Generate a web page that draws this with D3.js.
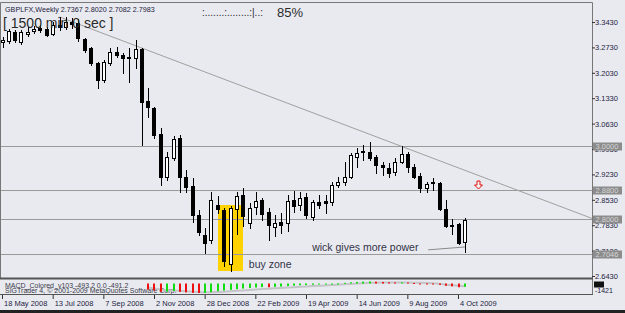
<!DOCTYPE html>
<html>
<head>
<meta charset="utf-8">
<script src="https://cdn.jsdelivr.net/npm/d3@7/dist/d3.min.js"></script>
<style>
  body { margin: 0; background: #e9eaf0; }
  svg { display: block; font-family: "Liberation Sans", Arial, sans-serif; }
</style>
</head>
<body>
<div id="chart"></div>
<script>
// weekly GBPLFX candles, one per week starting 18 May 2008
var opens  = [3.288,3.290,3.315,3.288,3.310,3.318,3.326,3.324,3.310,3.335,3.329,3.343,3.340,3.296,3.271,3.230,3.183,3.230,3.260,3.252,
              3.246,3.244,3.268,3.125,3.106,3.034,2.916,2.968,3.023,2.916,2.891,2.811,2.756,2.742,2.839,2.825,2.676,2.828,2.866,2.789,
              2.833,2.852,2.819,2.778,2.792,2.789,2.852,2.839,2.861,2.806,2.847,2.850,2.847,2.894,2.902,2.916,2.971,2.987,2.985,2.971,
              2.949,2.941,2.930,2.957,2.979,2.943,2.918,2.885,2.899,2.899,2.828,2.784,2.786,2.7367];
var highs  = [3.301,3.324,3.321,3.321,3.329,3.332,3.335,3.329,3.343,3.357,3.357,3.354,3.351,3.299,3.274,3.232,3.238,3.271,3.274,3.257,
              3.271,3.293,3.271,3.161,3.109,3.051,2.985,3.029,3.032,2.935,2.913,2.825,2.775,2.874,2.863,2.830,2.836,2.874,2.885,2.844,
              2.874,2.858,2.830,2.811,2.816,2.866,2.877,2.874,2.872,2.852,2.866,2.866,2.902,2.916,2.957,2.982,2.996,3.004,3.012,2.976,
              2.957,2.954,2.968,3.001,2.985,2.952,2.927,2.902,2.913,2.902,2.852,2.800,2.789,2.8020];
var lows   = [3.274,3.285,3.288,3.282,3.304,3.313,3.315,3.304,3.307,3.321,3.324,3.326,3.290,3.260,3.224,3.161,3.177,3.224,3.246,3.202,
              3.177,3.216,3.004,3.081,3.023,2.894,2.908,2.963,2.874,2.874,2.792,2.756,2.706,2.734,2.817,2.671,2.657,2.759,2.781,2.775,
              2.814,2.797,2.742,2.753,2.761,2.767,2.819,2.825,2.803,2.797,2.830,2.817,2.839,2.888,2.894,2.913,2.943,2.963,2.963,2.927,
              2.921,2.916,2.921,2.954,2.930,2.913,2.874,2.874,2.880,2.825,2.778,2.759,2.731,2.7082];
var closes = [3.293,3.318,3.293,3.315,3.315,3.324,3.321,3.307,3.335,3.329,3.343,3.337,3.299,3.266,3.230,3.183,3.232,3.260,3.252,3.244,
              3.244,3.268,3.122,3.109,3.032,2.916,2.971,3.021,2.916,2.888,2.811,2.764,2.734,2.852,2.828,2.684,2.830,2.863,2.808,2.830,
              2.850,2.814,2.784,2.789,2.784,2.850,2.836,2.858,2.811,2.847,2.839,2.844,2.894,2.902,2.916,2.976,2.982,2.985,2.968,2.949,
              2.943,2.927,2.957,2.979,2.943,2.916,2.885,2.896,2.902,2.828,2.781,2.781,2.734,2.7983];

// MACD_Colored histogram and signal (null = not drawn)
var macdHist = [null,null,null,null,null,null,null,null,null,null,null,null,null,null,null,null,null,null,null,null,
                null,null,null,-900,-1050,-1250,-1200,-1120,-1250,-1330,-1400,-1421,-1410,-1300,-1150,-1050,-950,-850,-760,-680,
                -600,-540,-560,-500,-460,-380,-320,-260,-240,-200,-150,-110,-40,30,100,180,240,280,300,270,
                230,180,160,170,140,80,0,-60,-100,-200,-330,-420,-560,-493.2];
var macdSignal = [null,null,null,null,null,null,null,null,null,null,null,null,null,null,null,null,null,null,null,null,
                null,null,null,-600,-750,-900,-1000,-1060,-1110,-1170,-1230,-1280,-1310,-1310,-1280,-1230,-1170,-1100,-1030,-960,
                -890,-820,-770,-720,-670,-610,-550,-490,-440,-390,-340,-290,-240,-180,-120,-60,0,50,100,130,
                150,160,160,160,150,130,100,70,30,-20,-180,-260,-340,-420,-491.2];

var dateTicks = [0,8,16,24,32,40,48,56,64,72];
var dateLabels = ["18 May 2008","13 Jul 2008","7 Sep 2008","2 Nov 2008","28 Dec 2008",
                  "22 Feb 2009","19 Apr 2009","14 Jun 2009","9 Aug 2009","4 Oct 2009"];
var priceTicks = [3.343,3.273,3.203,3.133,3.063,2.993,2.923,2.853,2.783,2.713,2.643];
var levels = [3.0, 2.88, 2.8, 2.7046];

// drawn objects
var trendPts = [[9, 3.357], [90, 2.822]];
var buyZone = {k0: 34, k1: 38, top: 2.839, bottom: 2.657};
var wickLine = [[67.2, 2.715], [73, 2.723]];
var arrowAt = [75, 2.882];

var W = 625, H = 313, right = 592, mainTop = 2, mainBottom = 278;

var svg = d3.select("#chart").append("svg")
    .attr("width", W).attr("height", H);

var x = d3.scaleLinear().domain([0, 72]).range([2.5, 458.5]);
var y = d3.scaleLinear().domain([2.643, 3.343]).range([276, 22]);
var ym = d3.scaleLinear().domain([-1421, 0]).range([293, 283.5]);

svg.append("defs").append("clipPath").attr("id", "mainclip")
  .append("rect").attr("x", 1).attr("y", mainTop + 1).attr("width", right - 1).attr("height", mainBottom - mainTop - 2);
svg.append("defs").append("clipPath").attr("id", "subclip")
  .append("rect").attr("x", 1).attr("y", 280).attr("width", right - 1).attr("height", 14);

var main = svg.append("g").attr("clip-path", "url(#mainclip)");

// buy zone
main.append("rect")
    .attr("x", Math.round(x(buyZone.k0)))
    .attr("y", Math.round(y(buyZone.top)))
    .attr("width", Math.round(x(buyZone.k1)) - Math.round(x(buyZone.k0)))
    .attr("height", Math.round(y(buyZone.bottom)) - Math.round(y(buyZone.top)))
    .attr("fill", "#ffd200");

// level lines
main.selectAll(".lvl").data(levels).enter().append("line")
    .attr("x1", 0).attr("x2", right)
    .attr("y1", function(d) { return Math.round(y(d)) + 0.5; })
    .attr("y2", function(d) { return Math.round(y(d)) + 0.5; })
    .attr("stroke", "#9a9a9a");

// trend line (ray to the right)
var tx0 = x(trendPts[0][0]), ty0 = y(trendPts[0][1]);
var slope = (y(trendPts[1][1]) - ty0) / (x(trendPts[1][0]) - tx0);
main.append("line")
    .attr("x1", tx0).attr("y1", ty0)
    .attr("x2", right).attr("y2", ty0 + slope * (right - tx0))
    .attr("stroke", "#a0a0a0");

// candles
var idx = d3.range(opens.length);
var candle = main.selectAll(".c").data(idx).enter().append("g");
candle.append("line")
    .attr("x1", function(k) { return Math.round(x(k)) + 0.5; })
    .attr("x2", function(k) { return Math.round(x(k)) + 0.5; })
    .attr("y1", function(k) { return Math.round(y(highs[k])); })
    .attr("y2", function(k) { return Math.round(y(lows[k])) + 1; })
    .attr("stroke", "#000");
candle.append("rect")
    .attr("x", function(k) { return Math.round(x(k)) - 1.5; })
    .attr("y", function(k) { return Math.round(y(Math.max(opens[k], closes[k]))) + 0.5; })
    .attr("width", 3)
    .attr("height", function(k) {
      return Math.max(1, Math.round(y(Math.min(opens[k], closes[k]))) - Math.round(y(Math.max(opens[k], closes[k]))));
    })
    .attr("fill", function(k) { return closes[k] >= opens[k] ? "#fff" : "#000"; })
    .attr("stroke", "#000");

// wick annotation line
main.append("line")
    .attr("x1", x(wickLine[0][0])).attr("y1", y(wickLine[0][1]))
    .attr("x2", x(wickLine[1][0])).attr("y2", y(wickLine[1][1]))
    .attr("stroke", "#8a8a8a");

// red arrow
var ax = Math.round(x(arrowAt[0])) + 0.5, ay = Math.round(y(arrowAt[1]));
main.append("path")
    .attr("d", "M" + (ax - 1.5) + "," + (ay - 8) + "h3v4h2.5l-4,4l-4,-4h2.5z")
    .attr("fill", "#f4f0f0").attr("stroke", "#e01010");

// texts on chart
main.append("text").attr("x", x(48.9)).attr("y", y(2.713))
    .attr("font-size", "10.5px").attr("fill", "#333346").text("wick gives more power");
main.append("text").attr("x", x(38.9)).attr("y", y(2.665))
    .attr("font-size", "10.5px").attr("fill", "#333346").text("buy zone");

svg.append("text").attr("x", 5).attr("y", 11.5)
    .attr("font-size", "7.2px").attr("fill", "#1c1c40")
    .text("GBPLFX,Weekly  2.7367 2.8020 2.7082 2.7983");
svg.append("text").attr("x", 3).attr("y", 28)
    .attr("font-size", "14px").attr("fill", "#2a2a2a")
    .text("[ 1500 min 0 sec ]");
svg.append("text").attr("x", 202).attr("y", 16)
    .attr("font-size", "10px").attr("fill", "#2a2a2a")
    .text(":.......:........:|..:");
svg.append("text").attr("x", 277).attr("y", 17)
    .attr("font-size", "13px").attr("fill", "#2a2a2a")
    .text("85%");

// MACD sub window
svg.append("text").attr("x", 5).attr("y", 287.5)
    .attr("font-size", "7px").attr("fill", "#3a3a4a")
    .text("MACD_Colored_v103 -493.2 0.0 -491.2");
svg.append("text").attr("x", 5).attr("y", 293)
    .attr("font-size", "7px").attr("fill", "#3a3a4a")
    .text("SIGTrader 4, \u00a9 2001-2009 MetaQuotes Software Corp.");
var sub = svg.append("g").attr("clip-path", "url(#subclip)");
sub.append("path")
    .datum(idx.filter(function(k) { return macdSignal[k] !== null; }))
    .attr("fill", "none").attr("stroke", "#c4c4c8").attr("stroke-width", 2)
    .attr("d", d3.line().x(function(k) { return x(k); }).y(function(k) { return ym(macdSignal[k]); }));
sub.selectAll(".h").data(idx.filter(function(k) { return macdHist[k] !== null; })).enter().append("rect")
    .attr("x", function(k) { return Math.round(x(k)) - 1; })
    .attr("width", 2)
    .attr("y", function(k) { return Math.min(ym(0), ym(macdHist[k])); })
    .attr("height", function(k) { return Math.max(1, Math.abs(ym(macdHist[k]) - ym(0))); })
    .attr("fill", function(k) {
      var prev = macdHist[k - 1];
      return (prev === null || macdHist[k] < prev) ? "#ee1010" : "#10dd10";
    });

// frame
svg.append("path")
    .attr("d", "M0.5," + (mainBottom + 1) + "V" + (mainTop + 0.5) + "H" + (right + 0.5) + "V295")
    .attr("fill", "none").attr("stroke", "#777");
svg.append("rect").attr("x", 0).attr("y", mainBottom - 0.5).attr("width", right + 1).attr("height", 2).attr("fill", "#555");
svg.append("line").attr("x1", 0).attr("x2", right + 1).attr("y1", 294.5).attr("y2", 294.5).attr("stroke", "#555");

// price axis
var yAxis = svg.append("g").attr("transform", "translate(" + right + ",0)")
    .call(d3.axisRight(y).tickValues(priceTicks).tickFormat(d3.format(".4f")).tickSize(3).tickPadding(0));
yAxis.select(".domain").remove();
yAxis.selectAll("line").attr("stroke", "#333");
yAxis.selectAll("text").attr("font-size", "7.5px").attr("fill", "#1c1c40").attr("font-family", "Liberation Sans, Arial, sans-serif");

// level price boxes
var box = svg.selectAll(".lb").data(levels).enter().append("g")
    .attr("transform", function(d) { return "translate(" + (right + 1) + "," + Math.round(y(d)) + ")"; });
box.append("rect").attr("x", 0).attr("y", -3.5).attr("width", 29).attr("height", 8).attr("fill", "#8c8c8c");
box.append("text").attr("x", 2.5).attr("y", 3.2).attr("font-size", "7.5px").attr("fill", "#d6d6d6")
    .text(function(d) { return d3.format(".4f")(d); });

// macd axis labels
svg.append("rect").attr("x", 594).attr("y", 281.5).attr("width", 10).attr("height", 6).attr("fill", "#111");
svg.append("text").attr("x", 595).attr("y", 293).attr("font-size", "7px").attr("fill", "#1c1c40").text("-1421");

// date axis
var xAxis = svg.append("g").attr("transform", "translate(0,295)")
    .call(d3.axisBottom(x).tickValues(dateTicks).tickFormat(function(d, i) { return dateLabels[i]; }).tickSize(4));
xAxis.select(".domain").remove();
xAxis.selectAll("line").attr("stroke", "#333")
    .attr("transform", function() { return "translate(-0.5,0)"; });
xAxis.selectAll("text").attr("text-anchor", "start").attr("x", 1).attr("y", 6).attr("dy", "0.71em")
    .attr("font-size", "7.5px").attr("fill", "#1c1c40").attr("font-family", "Liberation Sans, Arial, sans-serif");

svg.append("rect").attr("x", 0).attr("y", 310).attr("width", W).attr("height", 3).attr("fill", "#222");
</script>
</body>
</html>
